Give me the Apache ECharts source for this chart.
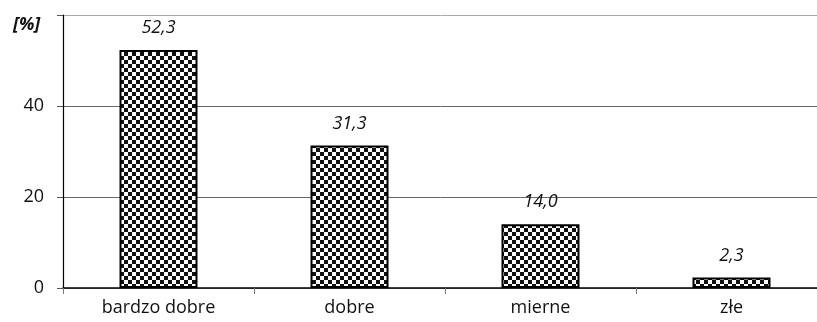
<!DOCTYPE html>
<html>
<head>
<meta charset="utf-8">
<script src="https://cdn.jsdelivr.net/npm/echarts@6/dist/echarts.min.js"></script>
<style>
html,body{margin:0;padding:0;background:#fff;}
#chart{width:817px;height:322px;}
</style>
</head>
<body>
<div id="chart"></div>
<script>
var categories = ['bardzo dobre', 'dobre', 'mierne', 'złe'];
var values = [52.3, 31.3, 14.0, 2.3];
var yTitle = '[%]';

function checker() {
  var c = document.createElement('canvas');
  c.width = 8; c.height = 8;
  var ctx = c.getContext('2d');
  ctx.fillStyle = '#ffffff';
  ctx.fillRect(0, 0, 8, 8);
  ctx.fillStyle = '#111111';
  ctx.fillRect(0, 0, 4, 4);
  ctx.fillRect(4, 4, 4, 4);
  return c;
}

var FONT = '"Open Sans", "Liberation Sans", sans-serif';
var chart = echarts.init(document.getElementById('chart'), null, {renderer: 'canvas'});
chart.setOption({
  animation: false,
  backgroundColor: '#ffffff',
  title: {
    text: yTitle,
    left: 8, top: 11,
    textStyle: {fontFamily: FONT, fontSize: 18, fontWeight: 'bold', fontStyle: 'italic', color: '#111'}
  },
  grid: {left: 63, width: 764, top: 15, bottom: 34, containLabel: false, outerBoundsMode: 'none'},
  xAxis: {
    type: 'category',
    data: categories,
    boundaryGap: true,
    axisLine: {lineStyle: {color: '#000', width: 1.5}},
    axisTick: {show: true, length: 6, lineStyle: {color: '#777'}},
    axisLabel: {fontFamily: FONT, fontSize: 18, color: '#111', margin: 11}
  },
  yAxis: {
    type: 'value',
    min: 0, max: 60, interval: 20,
    axisLine: {show: true, lineStyle: {color: '#000', width: 1.2}},
    axisTick: {show: true, length: 6, lineStyle: {color: '#555'}},
    axisLabel: {fontFamily: FONT, fontSize: 18, color: '#111', margin: 19,
      formatter: function (v) { return v === 60 ? '' : String(v); }},
    splitLine: {show: true, lineStyle: {color: ['#888', '#666', '#666', '#aaa'], width: 1}}
  },
  series: [{
    type: 'bar',
    data: values,
    barWidth: 78,
    itemStyle: {
      color: {image: checker(), repeat: 'repeat'},
      borderColor: '#000',
      borderWidth: 2
    },
    label: {
      show: true,
      position: 'top',
      distance: 13,
      fontFamily: FONT,
      fontSize: 18,
      fontStyle: 'italic',
      color: '#111',
      formatter: function (p) { return p.value.toFixed(1).replace('.', ','); }
    }
  }]
});
</script>
</body>
</html>
